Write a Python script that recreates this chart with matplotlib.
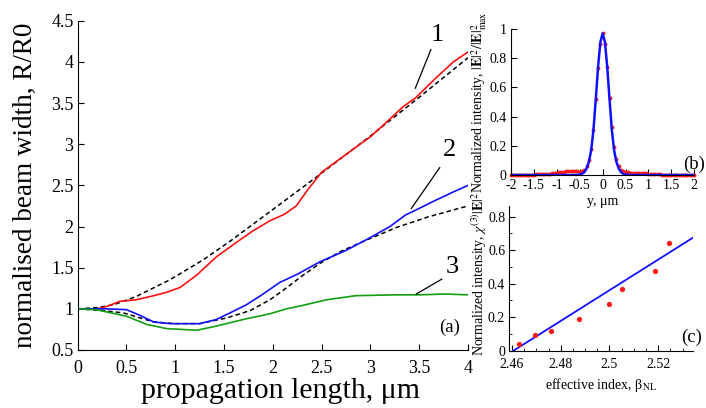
import numpy as np
import matplotlib
matplotlib.use("Agg")
import matplotlib.pyplot as plt

plt.rcParams["font.family"] = ["Liberation Serif", "DejaVu Serif"]
plt.rcParams["mathtext.fontset"] = "stix"

# ---- (a) beam width vs propagation length ----
x_red = [0, 0.2, 0.3, 0.43, 0.6, 0.78, 0.91, 1.05, 1.22, 1.42, 1.63, 1.8, 1.97,
         2.12, 2.24, 2.36, 2.5, 2.72, 3.0, 3.13, 3.34, 3.46, 3.65, 3.85, 4.0]
y_red = [1.0, 1.0, 1.03, 1.09, 1.11, 1.16, 1.2, 1.26, 1.41, 1.63, 1.81, 1.95, 2.07,
         2.15, 2.25, 2.45, 2.66, 2.85, 3.09, 3.23, 3.46, 3.56, 3.78, 4.0, 4.12]

x_fit1 = [0, 0.2, 0.37, 0.6, 0.94, 1.28, 1.56, 1.97, 2.48, 3.0, 3.5, 4.0]
y_fit1 = [1.0, 1.015, 1.05, 1.15, 1.35, 1.59, 1.82, 2.18, 2.63, 3.1, 3.57, 4.05]

x_blue = [0, 0.3, 0.5, 0.64, 0.78, 0.95, 1.1, 1.25, 1.42, 1.56, 1.73, 1.9, 2.07,
          2.25, 2.48, 2.75, 2.99, 3.2, 3.36, 3.5, 3.67, 3.85, 4.0]
y_blue = [1.0, 1.0, 0.99, 0.92, 0.84, 0.82, 0.82, 0.82, 0.87, 0.95, 1.05, 1.18, 1.32,
          1.42, 1.57, 1.71, 1.86, 2.0, 2.14, 2.22, 2.32, 2.42, 2.5]

x_fit2 = [0, 0.25, 0.47, 0.78, 1.0, 1.25, 1.53, 1.77, 1.97, 2.1, 2.3, 2.48, 2.7,
          2.93, 3.27, 3.6, 4.0]
y_fit2 = [1.0, 0.98, 0.95, 0.84, 0.82, 0.82, 0.89, 0.98, 1.11, 1.22, 1.40, 1.55, 1.70,
          1.82, 1.99, 2.12, 2.25]

x_green = [0, 0.19, 0.5, 0.71, 0.91, 1.22, 1.42, 1.73, 1.97, 2.14, 2.3, 2.55, 2.85,
           3.26, 3.5, 3.77, 4.0]
y_green = [1.0, 0.99, 0.91, 0.81, 0.76, 0.74, 0.79, 0.88, 0.94, 1.0, 1.04, 1.11, 1.16,
           1.17, 1.17, 1.18, 1.17]

# ---- (b) transverse intensity profile (points every 0.05 um from -2 to 2) ----
y_pos = np.linspace(-2, 2, 81)
prof_pts = [0, 0, 0, 0, 0, 0, 0, 0, 0.001, 0.002,
            0.003, 0.004, 0.005, 0.006, 0.007, 0.008, 0.009, 0.01, 0.012, 0.014,
            0.016, 0.018, 0.02, 0.022, 0.024, 0.025, 0.026, 0.026, 0.025, 0.024,
            0.022, 0.025, 0.035, 0.06, 0.1, 0.18, 0.31, 0.52, 0.73, 0.9,
            0.97,
            0.9, 0.74, 0.53, 0.33, 0.19, 0.11, 0.065, 0.035, 0.024, 0.02,
            0.018, 0.017, 0.016, 0.016, 0.015, 0.015, 0.014, 0.013, 0.012, 0.01,
            0.009, 0.008, 0.006, 0.005, 0.004, 0.003, 0.002, 0.002, 0.001, 0,
            0, 0, 0, 0, 0, 0, 0, 0, 0, 0]
y_fitb = [-2, -1, -0.6, -0.5, -0.45, -0.4, -0.35, -0.3, -0.25, -0.2, -0.15, -0.1, -0.05, 0,
          0.05, 0.1, 0.15, 0.2, 0.25, 0.3, 0.35, 0.4, 0.45, 0.5, 0.6, 1, 2]
prof_fit = [0, 0, 0, 0.003, 0.008, 0.02, 0.045, 0.09, 0.17, 0.31, 0.52, 0.74, 0.91, 0.97,
            0.91, 0.74, 0.52, 0.31, 0.17, 0.09, 0.045, 0.02, 0.008, 0.003, 0, 0, 0]

# ---- (c) nonlinear intensity vs effective index ----
beta_pts = [2.4629, 2.4696, 2.476, 2.4877, 2.4997, 2.5053, 2.5185, 2.5244]
chi_pts = [0.04, 0.094, 0.12, 0.19, 0.28, 0.37, 0.475, 0.645]
beta_fit = [2.4606, 2.5345]
chi_fit = [0.0, 0.677]

W, H = 706, 408
fig = plt.figure(figsize=(W / 100, H / 100), dpi=100)


def style(ax, size, xpad=3):
    for s in ("top", "right"):
        ax.spines[s].set_visible(False)
    ax.patch.set_visible(False)
    ax.tick_params(direction="in", labelsize=size, length=4, width=0.8, pad=3)
    ax.tick_params(axis="x", pad=xpad)
    ax.tick_params(which="minor", direction="in", length=2, width=0.6)


# main panel
ax = fig.add_axes([77.7 / W, 1 - 350 / H, (468 - 77.7) / W, (350 - 20.7) / H])
ax.plot(x_fit1, y_fit1, "k--", lw=1.1, dashes=(3, 2))
ax.plot(x_fit2, y_fit2, "k--", lw=1.1, dashes=(3, 2))
ax.plot(x_red, y_red, color="#ff1010", lw=1.2)
ax.plot(x_blue, y_blue, color="#1010ff", lw=1.2)
ax.plot(x_green, y_green, color="#10a010", lw=1.2)
ax.set_xlim(0, 4)
ax.set_ylim(0.5, 4.5)
ax.set_xticks(np.arange(0, 4.01, 0.5))
ax.set_xticklabels(["0", "0.5", "1", "1.5", "2", "2.5", "3", "3.5", "4"])
ax.set_yticks(np.arange(0.5, 4.51, 0.5))
ax.set_yticklabels(["0.5", "1", "1.5", "2", "2.5", "3", "3.5", "4", "4.5"])
style(ax, 13, xpad=7)
ax.set_xlabel("propagation length, μm", fontsize=21.5)
ax.xaxis.set_label_coords(0.52, -0.085)
ax.set_ylabel("normalised beam width, R/R0", fontsize=19.5)
ax.yaxis.set_label_coords(-0.102, 0.5)

for (x0, y0), (x1, y1), (tx, ty), lab in [
    ((3.46, 3.68), (3.62, 4.15), (3.69, 4.33), "1"),
    ((3.42, 2.22), (3.71, 2.715), (3.81, 2.93), "2"),
    ((3.47, 1.18), (3.73, 1.36), (3.84, 1.51), "3"),
]:
    ax.plot([x0, x1], [y0, y1], color="k", lw=0.9, clip_on=False)
    ax.text(tx, ty, lab, fontsize=19, ha="center", va="center")
ax.text(3.81, 0.77, "(a)", fontsize=13.5, ha="center", va="center")

# inset (b)
axb = fig.add_axes([511 / W, 1 - 175 / H, (694.3 - 511) / W, (175 - 29) / H])
axb.plot(y_pos, prof_pts, "o", color="#ff1a1a", ms=2.8, mew=0, clip_on=False)
axb.plot(y_fitb, prof_fit, color="#1010ff", lw=1.8)
axb.set_xlim(-2, 2)
axb.set_ylim(0, 1.0)
axb.set_xticks(np.arange(-2, 2.01, 0.5))
axb.set_xticklabels(["-2", "-1.5", "-1", "-0.5", "0", "0.5", "1", "1.5", "2"])
axb.set_yticks([0, 0.2, 0.4, 0.6, 0.8, 1.0])
axb.set_yticklabels(["0", "0.2", "0.4", "0.6", "0.8", "1"])
style(axb, 10)
axb.set_xlabel("y, μm", fontsize=10)
axb.xaxis.set_label_coords(0.5, -0.14)
axb.set_ylabel(r"Normalized intensity, $|\mathbf{E}|^2/|\mathbf{E}|^2_{\max}$", fontsize=10)
axb.yaxis.set_label_coords(-0.12, 0.5)
axb.text(1.0, 0.07, "(b)", transform=axb.transAxes, fontsize=13.5, ha="center", va="center")

# inset (c)
axc = fig.add_axes([509.3 / W, 1 - 350.7 / H, (693.3 - 509.3) / W, (350.7 - 206) / H])
axc.plot(beta_fit, chi_fit, color="#1010ff", lw=1.3)
axc.plot(beta_pts, chi_pts, "o", color="#ff1a1a", ms=3.8, mew=0)
axc.set_xlim(2.4589, 2.5344)
axc.set_ylim(0, 0.864)
axc.set_xticks([2.46, 2.48, 2.5, 2.52])
axc.set_xticklabels(["2.46", "2.48", "2.5", "2.52"])
axc.set_yticks([0, 0.2, 0.4, 0.6, 0.8])
axc.set_yticklabels(["0", "0.2", "0.4", "0.6", "0.8"])
axc.set_xticks(np.arange(2.465, 2.534, 0.005), minor=True)
axc.set_yticks(np.arange(0.1, 0.81, 0.2), minor=True)
style(axc, 10, xpad=5)
axc.set_xlabel("effective index, β$_{\\rm NL}$", fontsize=10)
axc.xaxis.set_label_coords(0.5, -0.175)
axc.set_ylabel(r"Normalized intensity, $\chi^{(3)}|\mathbf{E}|^2$", fontsize=10)
axc.yaxis.set_label_coords(-0.11, 0.53)
axc.text(0.993, 0.095, "(c)", transform=axc.transAxes, fontsize=13.5, ha="center", va="center")

fig.savefig("out.png", dpi=100)
